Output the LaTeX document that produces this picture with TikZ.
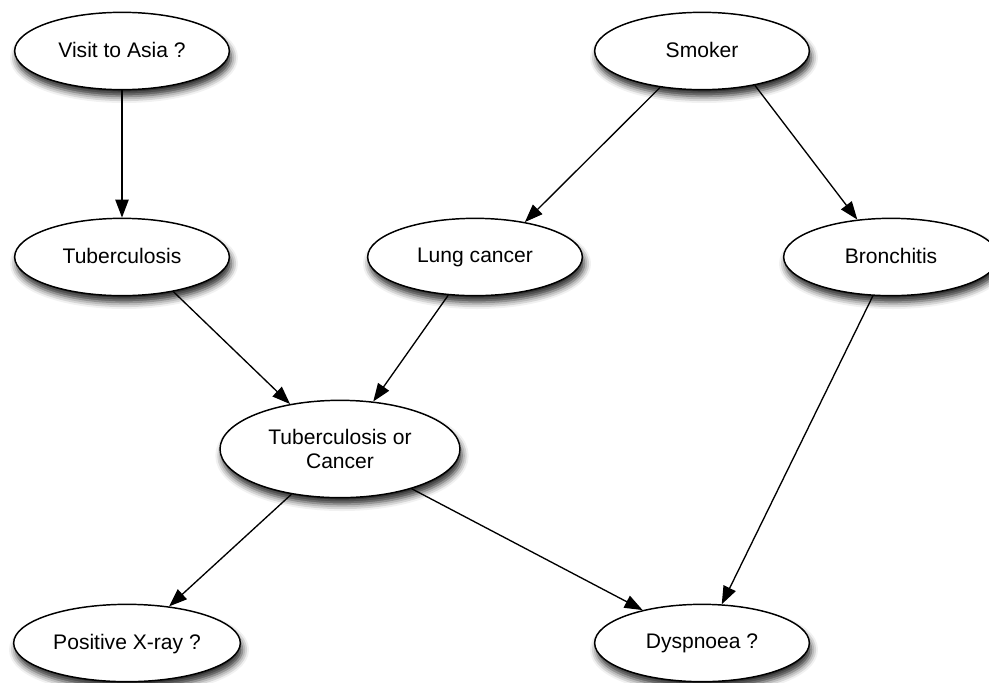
\documentclass[tikz,border=0pt]{standalone}
\usepackage{fontspec}
\setmainfont{Liberation Sans}
\usetikzlibrary{shapes.geometric,arrows.meta,shadows.blur}

\tikzset{
  belief/.style={ellipse, draw=black, line width=1.1pt, fill=white,
    minimum width=161pt, minimum height=58pt, inner sep=1pt, align=center,
    font=\fontsize{15.8}{18.5}\selectfont, text depth=0.22em,
    blur shadow={shadow xshift=1.5pt, shadow yshift=-5pt, shadow blur radius=5pt, shadow opacity=85}},
  cause/.style={line width=1pt, -{Triangle[length=13.5pt,width=10pt]}}
}

\begin{document}
\begin{tikzpicture}[x=0.75pt,y=0.75pt,yscale=-1,xscale=1]
\useasboundingbox (0,0) rectangle (989,682);

% Top row
\node[belief] (asia) at (122,51) {Visit to Asia ?};
\node[belief] (smoker) at (702,51) {Smoker};

% Middle row
\node[belief] (tuber) at (122,257) {Tuberculosis};
\node[belief] (lung) at (475,257) {Lung cancer};
\node[belief] (bronch) at (891,257) {Bronchitis};

% Either node
\node[belief, text depth=, minimum width=180pt, minimum height=73pt] (either) at (340,449) {Tuberculosis or\\Cancer};

% Bottom row
\node[belief, minimum width=170pt] (xray) at (127,643) {Positive X-ray ?};
\node[belief] (dysp) at (702,643) {Dyspnoea ?};

% Arrows
\draw[cause] (asia) -- (tuber);
\draw[cause] (smoker.-139) -- (lung.35);
\draw[cause] (smoker.-33) -- (bronch.132);
\draw[cause] (tuber.-34) -- (either.138);
\draw[cause] (lung.-125) -- (either.55);
\draw[cause] (bronch.-115) -- (dysp.63);
\draw[cause] (either.-29) -- (dysp.151);
\draw[cause] (either.-137) -- (xray.41);

\end{tikzpicture}
\end{document}
